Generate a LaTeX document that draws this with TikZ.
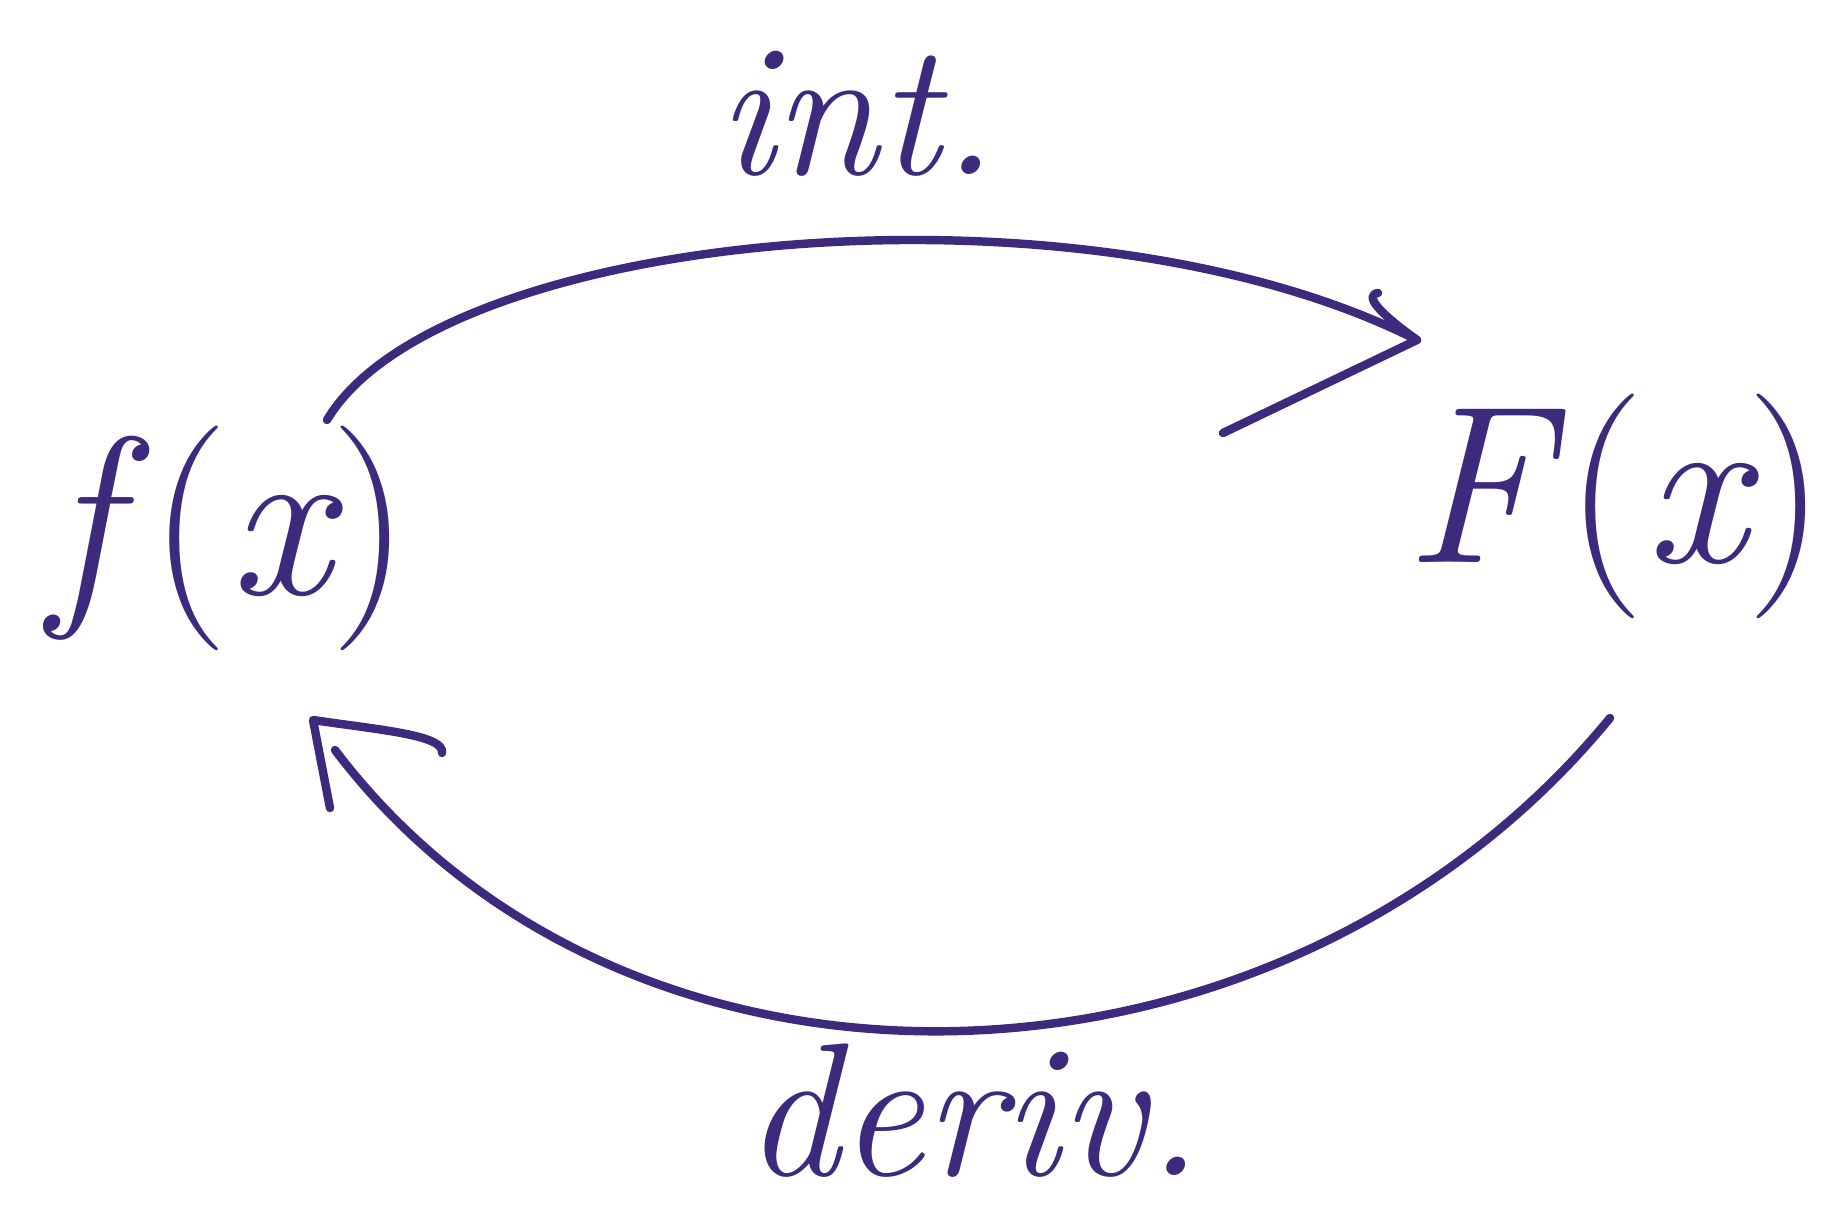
\documentclass[tikz,border=0pt]{standalone}
\usetikzlibrary{calc}
\definecolor{ink}{RGB}{62,42,125}
\begin{document}
\begin{tikzpicture}[x=1cm,y=1cm,
  stroke/.style={draw=ink,line width=2.4pt,line cap=round,line join=round},
  lbl/.style={text=ink,inner sep=0pt,anchor=base,font=\fontsize{54}{64}\selectfont},
  big/.style={lbl,font=\fontsize{64}{76}\selectfont}]
\useasboundingbox[fill=white] (0,0) rectangle (18.3,-12.13);
% nodes
\node[big] (f) at (2.30,-5.95) {\itshape f\/\upshape(\itshape x\upshape)};
\node[big] (F) at (16.15,-5.63) {\itshape F\/\upshape(\itshape x\upshape)};
\node[lbl] (int) at (8.57,-1.75) {\itshape int.};
\node[lbl] (der) at (9.73,-11.75) {\itshape deriv.};
% connector end points
\coordinate (a1) at (3.27,-4.20);
\coordinate (t1) at (14.17,-3.40);
\coordinate (a2) at (16.10,-7.18);
\coordinate (t2) at (3.35,-7.50);
\coordinate (h2) at (3.13,-7.20);
% top arc: f -> F
\draw[stroke] (a1) .. controls (4.4,-2.3) and (10.8,-1.7) .. (t1);
\draw[stroke] (12.23,-4.33) -- (t1) .. controls (13.75,-3.10) and (13.65,-2.95) .. (13.78,-2.93);
% bottom arc: F -> f
\draw[stroke] (a2) .. controls (12.8,-11.2) and (6.3,-11.4) .. (t2);
\draw[stroke] (3.30,-8.08) -- (h2) .. controls (3.8,-7.3) and (4.45,-7.35) .. (4.42,-7.53);
\end{tikzpicture}
\end{document}
